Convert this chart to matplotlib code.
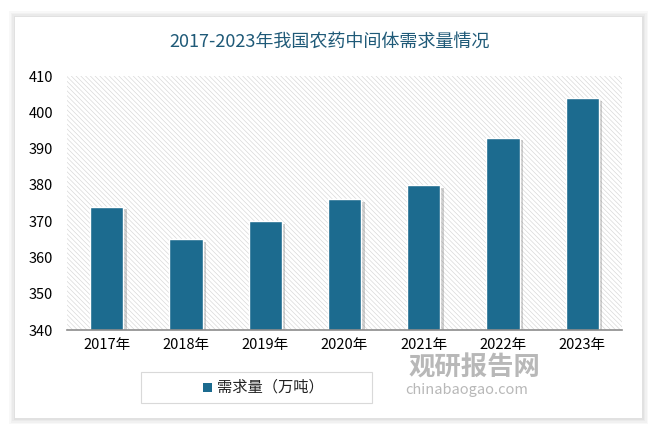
import matplotlib.pyplot as plt
import matplotlib.patches as mpatches
import matplotlib.patheffects as pe
import numpy as np

plt.rcParams['font.family'] = ['Noto Sans CJK SC', 'DejaVu Sans']
plt.rcParams['hatch.linewidth'] = 0.45
plt.rcParams['hatch.color'] = '#d6d6d6'

years = ['2017年', '2018年', '2019年', '2020年', '2021年', '2022年', '2023年']
demand = [374, 365, 370, 376, 380, 393, 404]
series_name = '需求量（万吨）'
title = '2017-2023年我国农药中间体需求量情况'
bar_color = '#1c6b8f'

fig = plt.figure(figsize=(6.59, 4.32), dpi=100)
fig.patch.set_facecolor('white')

# card with soft shadow
for i, a in enumerate([0.05, 0.05, 0.06, 0.08]):
    off = (4 - i) * 1.5
    fig.patches.append(mpatches.Rectangle(
        ((15 - off) / 659, 1 - (418 + off) / 432),
        (627 + 2 * off) / 659, (401 + 2 * off) / 432,
        transform=fig.transFigure, facecolor='#808080', alpha=a,
        edgecolor='none', zorder=-2))
fig.patches.append(mpatches.Rectangle(
    (15 / 659, 1 - 418 / 432), 627 / 659, 401 / 432,
    transform=fig.transFigure, facecolor='white', edgecolor='none', zorder=-1))

ax = fig.add_axes([67 / 659, 1 - 330 / 432, 555 / 659, 254 / 432])
ax.set_zorder(1)
ax.set_facecolor('none')
ax.add_patch(mpatches.Rectangle((0, 0), 1, 1, transform=ax.transAxes,
                                facecolor='white', hatch='\\\\\\\\\\\\\\',
                                edgecolor='#d6d6d6', linewidth=0, zorder=0))

x = np.arange(len(years))
bars = ax.bar(x, demand, width=0.42, bottom=0, color=bar_color,
              edgecolor='white', linewidth=1.0, zorder=3)
for b in bars:
    b.set_path_effects([pe.SimplePatchShadow(offset=(2.5, -2), shadow_rgbFace='#666666', alpha=0.3),
                        pe.Normal()])

ax.set_ylim(340, 410)
ax.set_xlim(-0.5, len(years) - 0.5)
ax.set_yticks(np.arange(340, 411, 10))
ax.set_xticks(x)
ax.set_xticklabels(years, fontsize=10.5)
ax.tick_params(axis='y', labelsize=10.5, length=0, pad=10)
ax.tick_params(axis='x', length=0, pad=6)
for s in ['top', 'right', 'left']:
    ax.spines[s].set_visible(False)
ax.spines['bottom'].set_color('#8c8c8c')
ax.spines['bottom'].set_linewidth(1.2)
ax.spines['bottom'].set_zorder(4)

fig.text(0.5, 1 - 42 / 432, title, ha='center', va='center',
         fontsize=13, color='#1f5a78', fontweight='medium')

# legend box
fig.patches.append(mpatches.Rectangle(
    (141 / 659, 1 - 403 / 432), 231 / 659, 31 / 432,
    transform=fig.transFigure, facecolor='white', edgecolor='#d9d9d9',
    linewidth=0.8, zorder=2))
fig.patches.append(mpatches.Rectangle(
    (203 / 659, 1 - 392 / 432), 9 / 659, 9 / 432,
    transform=fig.transFigure, facecolor=bar_color, edgecolor='none', zorder=3))
fig.text(217 / 659, 1 - 387 / 432, series_name, ha='left', va='center',
         fontsize=11, color='#222222', zorder=3)

# watermark
fig.text(409 / 659, 1 - 368 / 432, '观研报告网', ha='left', va='center',
         fontsize=19, color='#b8b8b8', fontweight='bold', zorder=5)
fig.text(405 / 659, 1 - 390 / 432, 'chinabaogao.com', ha='left', va='center',
         fontsize=10.5, color='#b8b8b8', zorder=5)

fig.savefig('out.png', dpi=100)
